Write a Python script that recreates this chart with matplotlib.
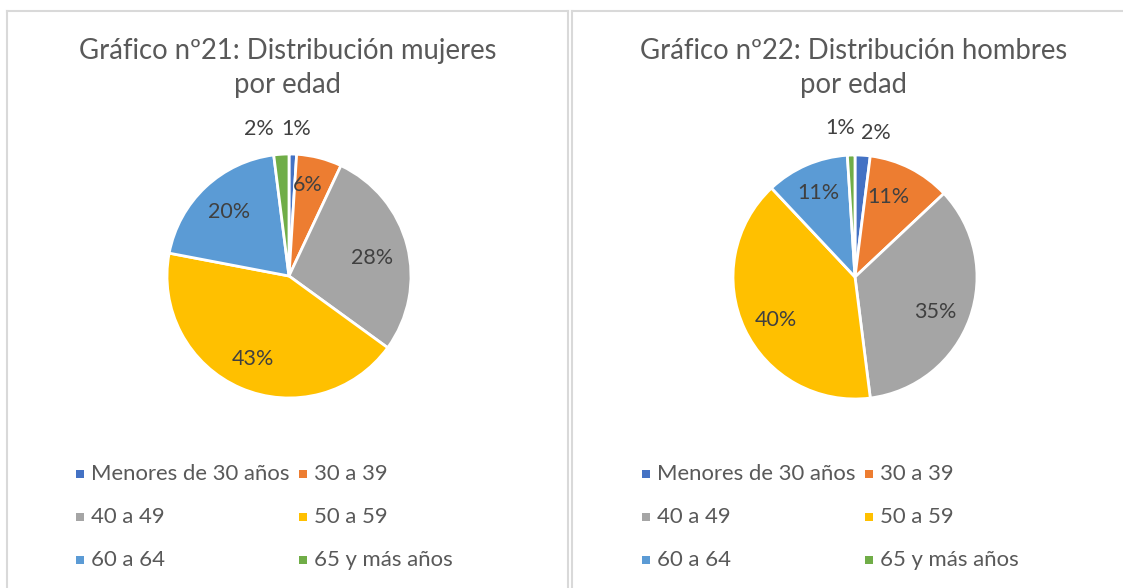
import matplotlib
matplotlib.use("Agg")
import matplotlib.pyplot as plt
from matplotlib.patches import Rectangle
from matplotlib.lines import Line2D
import numpy as np

plt.rcParams['font.family'] = ['Lato', 'DejaVu Sans']

categories = ["Menores de 30 años", "30 a 39", "40 a 49", "50 a 59", "60 a 64", "65 y más años"]
mujeres = [1, 6, 28, 43, 20, 2]
hombres = [2, 11, 35, 40, 11, 1]
titles = ["Gráfico nº21: Distribución mujeres\npor edad",
          "Gráfico nº22: Distribución hombres\npor edad"]
colors = ["#4472C4", "#ED7D31", "#A5A5A5", "#FFC000", "#5B9BD5", "#70AD47"]

W, H = 1123, 588
fig = plt.figure(figsize=(W / 100, H / 100), dpi=100)
fig.patch.set_facecolor("white")

TXT = "#595959"
LBL = "#404040"

# label placement style: (radius factor, angular nudge in degrees) per wedge
label_style = [
    [(1.21, 0.8), (0.76, -3), (0.70, 2), (0.74, 0), (0.72, 0), (1.23, -8)],
    [(1.19, 4.7), (0.71, -4), (0.72, 4), (0.74, -3), (0.75, 0), (1.23, -4)],
]

centers = [(289, 276), (855, 277)]
R = 122
half = 150

for i, (vals, title) in enumerate(zip([mujeres, hombres], titles)):
    cx, cy = centers[i]
    ax = fig.add_axes([(cx - half) / W, (H - cy - half) / H, 2 * half / W, 2 * half / H])
    ax.pie(vals, colors=colors, startangle=90, counterclock=False, radius=1,
           wedgeprops=dict(edgecolor="white", linewidth=2))
    lim = half / R
    ax.set_xlim(-lim, lim)
    ax.set_ylim(-lim, lim)
    ax.set_aspect("equal")
    ax.axis("off")
    total = sum(vals)
    cum = 0
    for j, v in enumerate(vals):
        mid = (cum + v / 2) / total * 360
        cum += v
        rf, nudge = label_style[i][j]
        a = np.deg2rad(mid + nudge)
        ax.text(rf * np.sin(a), rf * np.cos(a), f"{v}%", ha="center", va="center",
                fontsize=15.5, color=LBL)
    # title
    fig.text((cx - 1) / W, (H - 68) / H, title, ha="center", va="center",
             fontsize=19.8, color=TXT, linespacing=1.4)
    # legend
    offx = cx - 289
    col_x = [80 + offx, 303 + offx]
    row_y = [474, 517, 560]
    for k, cat in enumerate(categories):
        r, c = divmod(k, 2)
        mx, my = col_x[c], row_y[r]
        fig.patches.append(Rectangle(((mx - 4) / W, (H - my - 4) / H), 8 / W, 8 / H,
                                     transform=fig.transFigure, facecolor=colors[k],
                                     edgecolor="none"))
        fig.text((mx + 11) / W, (H - my) / H, cat, ha="left", va="center",
                 fontsize=15.9, color=TXT)

# panel borders
bc = "#D9D9D9"
for x0, x1 in [(7, 568), (572, 1130)]:
    fig.add_artist(Line2D([x0 / W, x0 / W], [(H - 11) / H, -0.01], color=bc, lw=1.5,
                          transform=fig.transFigure))
    fig.add_artist(Line2D([x0 / W, x1 / W], [(H - 11) / H, (H - 11) / H], color=bc, lw=1.5,
                          transform=fig.transFigure))
    fig.add_artist(Line2D([x1 / W, x1 / W], [(H - 11) / H, -0.01], color=bc, lw=1.5,
                          transform=fig.transFigure))

fig.savefig("out.png", dpi=100, facecolor="white")
